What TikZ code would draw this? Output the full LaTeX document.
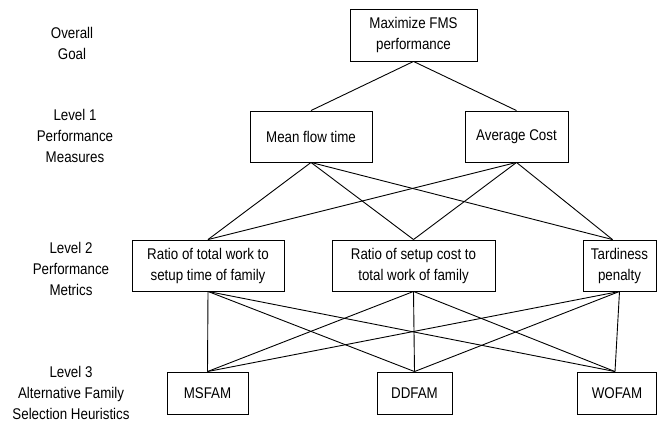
\documentclass[tikz,border=0pt]{standalone}
\usepackage{fontspec}
\setmainfont{Liberation Sans}[FakeStretch=0.86]
\begin{document}
\begin{tikzpicture}[x=1pt,y=-1pt,
  every node/.style={font=\fontsize{15.5}{21}\selectfont, align=center, inner sep=0pt},
  box/.style={draw, line width=0.9pt, rectangle},
  link/.style={line width=0.9pt},
  lbl/.style={}]
\useasboundingbox (0,0) rectangle (658,423);
% labels
\node[lbl] (l0) at (72,43) {Overall\\Goal};
\node[lbl] (l1) at (75,136) {Level 1\\Performance\\Measures};
\node[lbl] (l2) at (71,269) {Level 2\\Performance\\Metrics};
\node[lbl] (l3) at (71,393) {Level 3\\Alternative Family\\Selection Heuristics};
% boxes
\node[box, minimum width=127pt, minimum height=52pt] (top) at (413.5,35) {Maximize FMS\\performance};
\node[box, minimum width=122pt, minimum height=51pt] (mft) at (311,136.5) {Mean flow time};
\node[box, minimum width=103pt, minimum height=51pt] (ac) at (516.5,136.5) {Average Cost};
\node[box, minimum width=152pt, minimum height=51pt] (r1) at (208,265.5) {Ratio of total work to\\setup time of family};
\node[box, minimum width=163pt, minimum height=51pt] (r2) at (413.5,265.5) {Ratio of setup cost to\\total work of family};
\node[box, minimum width=73pt, minimum height=51pt] (td) at (619.5,265.5) {Tardiness\\penalty};
\node[box, minimum width=81pt, minimum height=42pt] (ms) at (207.5,393) {MSFAM};
\node[box, minimum width=75pt, minimum height=42pt] (dd) at (414.5,393) {DDFAM};
\node[box, minimum width=79pt, minimum height=42pt] (wo) at (617,393) {WOFAM};
\coordinate (tdn) at ([xshift=-7pt]td.north);
\coordinate (won) at ([xshift=-2pt]wo.north);
% connectors
\draw[link] (top.south) -- (mft.north);
\draw[link] (top.south) -- (ac.north);
\foreach \a in {mft,ac}{
  \draw[link] (\a.south) -- (r1.north);
  \draw[link] (\a.south) -- (r2.north);
  \draw[link] (\a.south) -- (tdn);
}
\foreach \a in {r1,r2,td}{
  \draw[link] (\a.south) -- (ms.north);
  \draw[link] (\a.south) -- (dd.north);
  \draw[link] (\a.south) -- (won);
}
\end{tikzpicture}
\end{document}
